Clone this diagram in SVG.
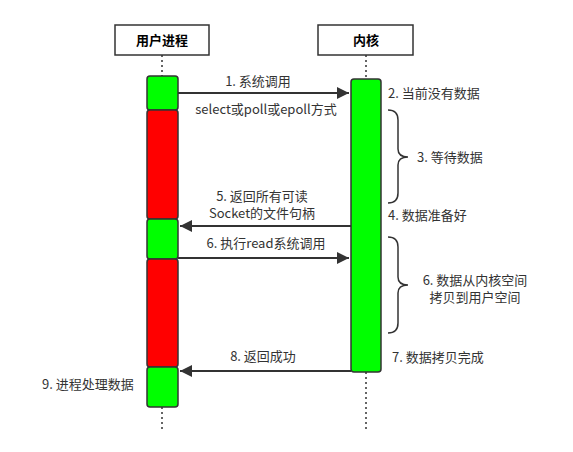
<svg xmlns="http://www.w3.org/2000/svg" width="573" height="452" viewBox="0 0 573 452">
<style>
.hdr{fill:#fff;stroke:#333;stroke-width:1.5}
.ht{font-family:"Noto Sans CJK SC","Liberation Sans",sans-serif;font-size:13px;font-weight:bold;fill:#000;text-anchor:middle}
.t{font-family:"Noto Sans CJK SC","Liberation Sans",sans-serif;font-size:13px;fill:#333}
.m{text-anchor:middle}
.g{fill:#00ff00;stroke:#333;stroke-width:1.5}
.r{fill:#ff0000;stroke:#333;stroke-width:1.5}
.life{stroke:#333;stroke-width:1.5;stroke-dasharray:2 3;fill:none}
.arr{stroke:#333;stroke-width:2;fill:none;marker-end:url(#ah)}
.brace{stroke:#333;stroke-width:1.5;fill:none}
</style>
<defs>
<marker id="ah" viewBox="0 0 10 10" refX="10" refY="5" markerWidth="6" markerHeight="6" markerUnits="strokeWidth" orient="auto">
<path d="M0,0 L10,5 L0,10 Z" fill="#333"/>
</marker>
</defs>
<rect width="573" height="452" fill="#fff"/>
<g id="lifelines">
<line class="life" x1="162" y1="55" x2="162" y2="76"/>
<line class="life" x1="366" y1="55" x2="366" y2="79"/>
<line class="life" x1="162" y1="407" x2="162" y2="430"/>
<line class="life" x1="366" y1="372" x2="366" y2="430"/>
</g>
<g id="user">
<rect class="hdr" x="115" y="25" width="94" height="30"/>
<text class="ht" x="162" y="45">用户进程</text>
</g>
<g id="kernel">
<rect class="hdr" x="318" y="25" width="95" height="30"/>
<text class="ht" x="366" y="45">内核</text>
</g>
<g id="user-activations">
<rect class="g" x="147" y="76" width="31" height="34" rx="3"/>
<rect class="r" x="147" y="110" width="31" height="109" rx="3"/>
<rect class="g" x="147" y="219" width="31" height="40" rx="3"/>
<rect class="r" x="147" y="259" width="31" height="108" rx="3"/>
<rect class="g" x="147" y="367" width="31" height="40" rx="3"/>
</g>
<g id="kernel-activation">
<rect class="g" x="351" y="79" width="30" height="293" rx="3"/>
</g>
<g id="connectors">
<line class="arr" x1="178" y1="93" x2="349" y2="93"/>
<line class="arr" x1="351" y1="226" x2="180" y2="226"/>
<line class="arr" x1="178" y1="258" x2="349" y2="258"/>
<line class="arr" x1="351" y1="371" x2="180" y2="371"/>
<path class="brace" d="M388,110 Q398,110 398,120 L398,149 Q398,157 408,157 Q398,157 398,165 L398,193 Q398,203 388,203"/>
<path class="brace" d="M388,237 Q398,237 398,247 L398,277 Q398,285 408,285 Q398,285 398,293 L398,323 Q398,333 388,333"/>
</g>
<g id="labels">
<text class="t m" x="258" y="86">1. 系统调用</text>
<text class="t m" x="266" y="114">select或poll或epoll方式</text>
<text class="t" x="388" y="98">2. 当前没有数据</text>
<text class="t" x="417" y="162">3. 等待数据</text>
<text class="t m" x="262" y="201">5. 返回所有可读</text>
<text class="t m" x="262" y="218">Socket的文件句柄</text>
<text class="t" x="388" y="220">4. 数据准备好</text>
<text class="t m" x="266" y="248">6. 执行read系统调用</text>
<text class="t m" x="475" y="285">6. 数据从内核空间</text>
<text class="t m" x="475" y="302">拷贝到用户空间</text>
<text class="t m" x="263" y="361">8. 返回成功</text>
<text class="t" x="392" y="362">7. 数据拷贝完成</text>
<text class="t" x="42" y="389">9. 进程处理数据</text>
</g>
</svg>
